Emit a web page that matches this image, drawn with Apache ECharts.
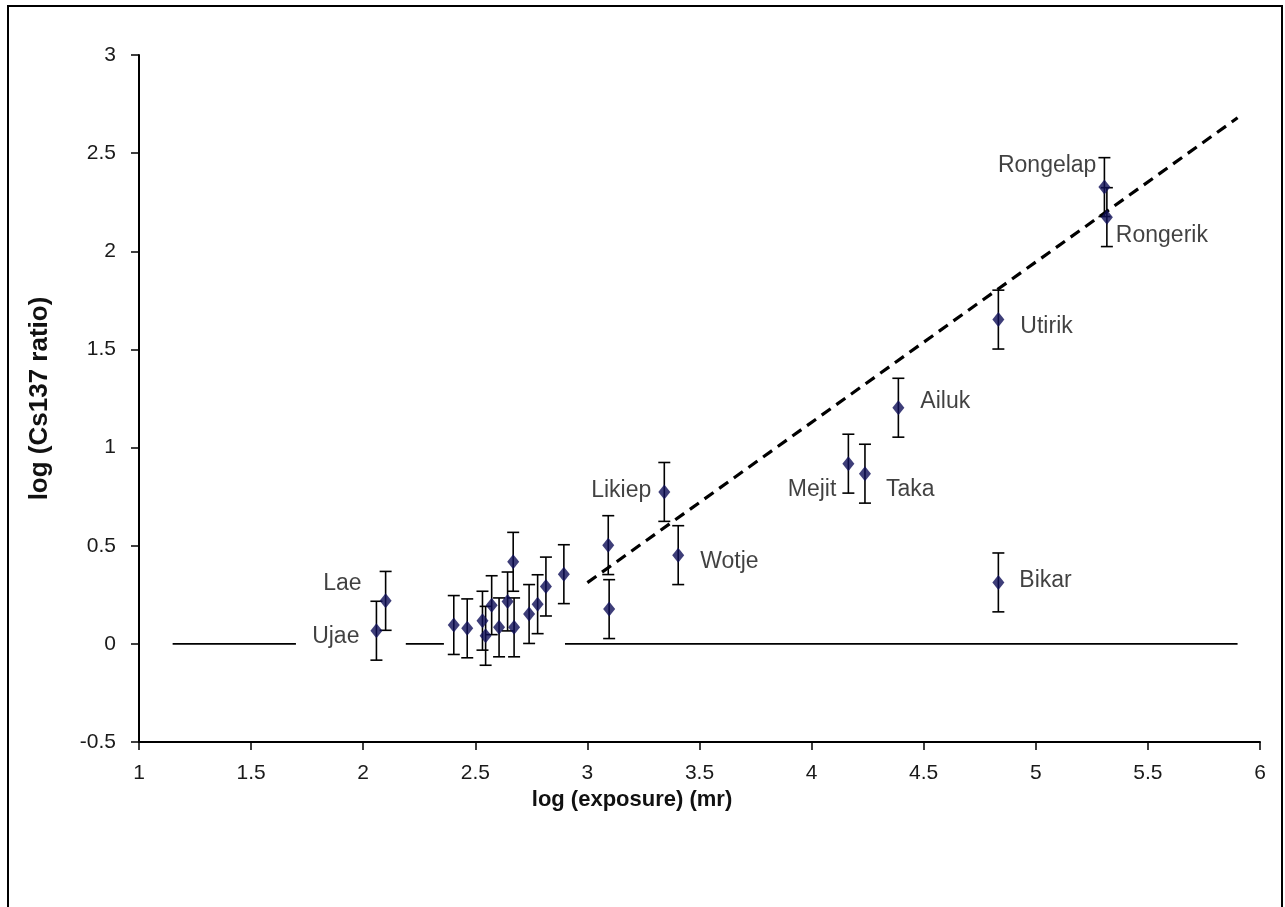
<!DOCTYPE html>
<html>
<head>
<meta charset="utf-8">
<script src="https://cdn.jsdelivr.net/npm/echarts@6/dist/echarts.min.js"></script>
<style>
html,body{margin:0;padding:0;background:#fff;}
#chart{width:1285px;height:907px;}
</style>
</head>
<body>
<div id="chart"></div>
<script>
// ---- data ----
const atollNames = ['Ujae','Lae','','','','','','','','','','','','','','','','Likiep','Wotje','Mejit','Taka','Ailuk','Bikar','Utirik','Rongerik','Rongelap'];
const logExposure = [2.059,2.100,2.404,2.464,2.532,2.546,2.573,2.606,2.644,2.669,2.673,2.740,2.778,2.815,2.895,3.093,3.097,3.343,3.405,4.164,4.238,4.387,4.833,4.833,5.317,5.306];
const logCsRatio  = [0.067,0.219,0.096,0.079,0.118,0.041,0.197,0.084,0.216,0.418,0.084,0.152,0.202,0.292,0.355,0.503,0.177,0.774,0.452,0.918,0.867,1.203,0.313,1.652,2.174,2.327];
const errorHalf = 0.15;
const trendX = [3.0, 5.9];
const trendY = [0.312, 2.680];
const zeroSegments = [[1.15,1.70],[2.19,2.36],[2.90,5.90]];
const xTicks = {min:1, max:6, interval:0.5};
const yTicks = {min:-0.5, max:3, interval:0.5};

// ---- label placement (style) ----
const labelPlace = {
  Ujae:     {position:'left',  distance:11, offset:[0,6]},
  Lae:      {position:'left',  distance:18, offset:[0,-17]},
  Likiep:   {position:'left',  distance:7,  offset:[0,-1]},
  Wotje:    {position:'right', distance:16, offset:[0,7]},
  Mejit:    {position:'left',  distance:6,  offset:[0,26]},
  Taka:     {position:'right', distance:15, offset:[0,16]},
  Ailuk:    {position:'right', distance:16, offset:[0,-6]},
  Bikar:    {position:'right', distance:15, offset:[0,-2]},
  Utirik:   {position:'right', distance:16, offset:[0,7]},
  Rongerik: {position:'right', distance:3,  offset:[0,19]},
  Rongelap: {position:'left',  distance:2,  offset:[0,-21]}
};

const FONT = '"Liberation Sans", Arial, Helvetica, sans-serif';
const chart = echarts.init(document.getElementById('chart'));

const pointData = logExposure.map((x,i)=>{
  const n = atollNames[i];
  const item = {name:n, value:[x, logCsRatio[i]]};
  if (n && labelPlace[n]) {
    item.label = Object.assign({show:true}, labelPlace[n]);
  }
  return item;
});
const errData = logExposure.map((x,i)=>[x, logCsRatio[i]-errorHalf, logCsRatio[i]+errorHalf]);

const zeroSeries = zeroSegments.map(seg=>({
  type:'line', data:[[seg[0],0],[seg[1],0]], symbol:'none', silent:true,
  lineStyle:{color:'#000', width:1.6}, z:1
}));

chart.setOption({
  animation:false,
  backgroundColor:'#fff',
  grid:{left:139, right:25, top:55, bottom:165, containLabel:false},
  xAxis:{
    type:'value', min:xTicks.min, max:xTicks.max, interval:xTicks.interval,
    axisLine:{onZero:false, lineStyle:{color:'#000', width:2}},
    axisTick:{show:true, length:8, lineStyle:{color:'#000', width:1.5}},
    splitLine:{show:false},
    axisLabel:{color:'#1a1a1a', fontSize:21, fontFamily:FONT, margin:21}
  },
  yAxis:{
    type:'value', min:yTicks.min, max:yTicks.max, interval:yTicks.interval,
    name:'log (Cs137 ratio)', nameLocation:'middle', nameGap:86,
    nameTextStyle:{color:'#111', fontSize:26, fontWeight:'bold', fontFamily:FONT},
    axisLine:{show:true, onZero:false, lineStyle:{color:'#000', width:2}},
    axisTick:{show:true, length:8, lineStyle:{color:'#000', width:1.5}},
    splitLine:{show:false},
    axisLabel:{color:'#1a1a1a', fontSize:21, fontFamily:FONT, margin:23}
  },
  graphic:[
    {type:'rect', shape:{x:8, y:6, width:1274, height:920}, style:{fill:null, stroke:'#000', lineWidth:2}, silent:true, z:-10},
    {type:'text', x:632, y:800, style:{text:'log (exposure) (mr)', textAlign:'center', textVerticalAlign:'middle', font:'bold 22px '+FONT, fill:'#111'}}
  ],
  series:[
    ...zeroSeries,
    {
      type:'line', data:trendX.map((x,i)=>[x,trendY[i]]), symbol:'none', silent:true,
      lineStyle:{color:'#000', width:3.2, type:[11,7]}, z:3
    },
    {
      type:'custom', data:errData, z:4, silent:true,
      renderItem:function(params, api){
        const top = api.coord([api.value(0), api.value(2)]);
        const bot = api.coord([api.value(0), api.value(1)]);
        const cap = 6;
        const st = {stroke:'#000', lineWidth:1.6};
        return {type:'group', children:[
          {type:'line', shape:{x1:top[0], y1:top[1], x2:bot[0], y2:bot[1]}, style:st},
          {type:'line', shape:{x1:top[0]-cap, y1:top[1], x2:top[0]+cap, y2:top[1]}, style:st},
          {type:'line', shape:{x1:bot[0]-cap, y1:bot[1], x2:bot[0]+cap, y2:bot[1]}, style:st}
        ]};
      }
    },
    {
      type:'scatter', data:pointData, symbol:'diamond', symbolSize:[12,15], z:5,
      itemStyle:{color:'#0e0e58'},
      label:{show:false, formatter:'{b}', color:'#111', fontSize:23, fontFamily:FONT}
    }
  ]
});
</script>
</body>
</html>
